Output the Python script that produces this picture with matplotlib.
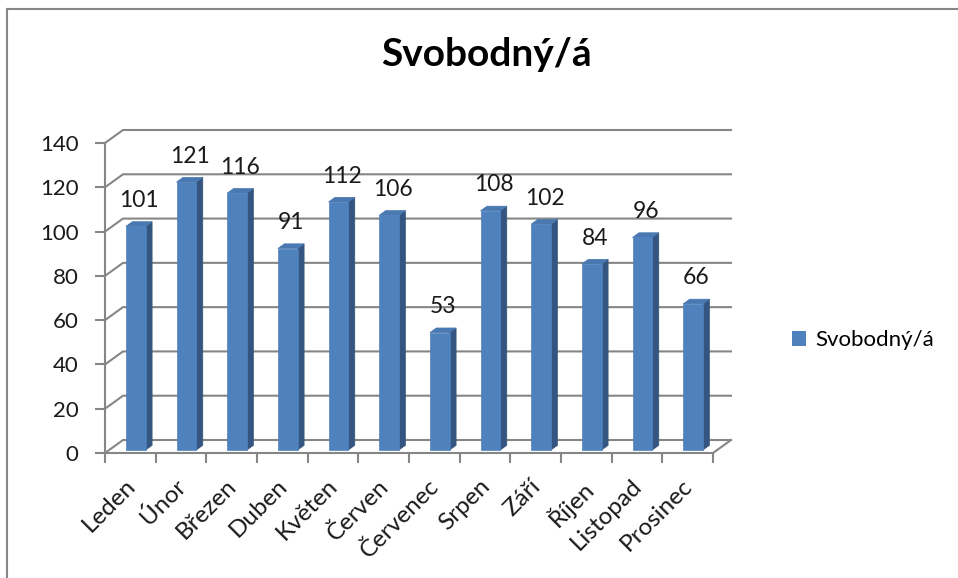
import numpy as np
import matplotlib.pyplot as plt
from matplotlib.patches import Polygon, Patch
from matplotlib.lines import Line2D
from matplotlib.transforms import Affine2D, IdentityTransform

months = ['Leden', 'Únor', 'Březen', 'Duben', 'Květen', 'Červen', 'Červenec',
          'Srpen', 'Září', 'Říjen', 'Listopad', 'Prosinec']
values = [101, 121, 116, 91, 112, 106, 53, 108, 102, 84, 96, 66]
series_name = 'Svobodný/á'
yticks = [0, 20, 40, 60, 80, 100, 120, 140]

plt.rcParams['font.family'] = ['Lato', 'DejaVu Sans']

W, H = 958, 578
fig = plt.figure(figsize=(W / 100, H / 100), dpi=100)
ax = fig.add_axes([105 / W, 1 - 453 / H, 608 / W, (453 - 143) / H])
ax.set_xlim(0, len(months))
ax.set_ylim(0, 140)
ax.patch.set_visible(False)

# depth of the fake 3d box, in pixels
DX, DY = 18, 13
grid_col = '#868686'
text_col = '#1a1a1a'

def proj(x, y, d):
    p = ax.transData.transform((x, y))
    return (p[0] + d * DX, p[1] + d * DY)

# back wall + left wall gridlines
for v in yticks:
    pts = [proj(0, v, 0), proj(0, v, 1), proj(len(months), v, 1)]
    ax.add_line(Line2D([p[0] for p in pts], [p[1] for p in pts], color=grid_col,
                       lw=1.5, transform=IdentityTransform(), clip_on=False, zorder=1))
# right edge of floor
pts = [proj(len(months), 0, 0), proj(len(months), 0, 1)]
ax.add_line(Line2D([p[0] for p in pts], [p[1] for p in pts], color=grid_col,
                   lw=1.5, transform=IdentityTransform(), clip_on=False, zorder=1))

# bars
front, back = 0.23, 0.59
for i, v in enumerate(values):
    x0, x1 = i + 0.33, i + 0.72
    faces = [
        ([proj(x1, 0, front), proj(x1, 0, back), proj(x1, v, back), proj(x1, v, front)], '#34557f'),
        ([proj(x0, v, front), proj(x1, v, front), proj(x1, v, back), proj(x0, v, back)], '#4a78b0'),
        ([proj(x0, 0, front), proj(x1, 0, front), proj(x1, v, front), proj(x0, v, front)], '#4f81bd'),
    ]
    for pts, c in faces:
        ax.add_patch(Polygon(pts, closed=True, facecolor=c, edgecolor=c, lw=0.5,
                             transform=IdentityTransform(), clip_on=False, zorder=3))
    lbl_tf = ax.transData + Affine2D().translate(0.42 * DX, 0.42 * DY + 13)
    ax.text(i + 0.525, v, str(v), transform=lbl_tf, ha='center', va='bottom',
            fontsize=16.5, color=text_col, zorder=4)

# axes styling
for s in ['top', 'right']:
    ax.spines[s].set_visible(False)
for s in ['left', 'bottom']:
    ax.spines[s].set_color(grid_col)
    ax.spines[s].set_linewidth(1.5)
ax.set_yticks(yticks)
ax.set_yticklabels([str(t) for t in yticks])
ax.tick_params(axis='y', length=7, width=1.5, color=grid_col, pad=12,
               labelsize=16, labelcolor=text_col)
ax.set_xticks(np.arange(len(months) + 1))
ax.set_xticklabels([])
ax.tick_params(axis='x', which='major', length=7, width=1.5, color=grid_col)
ax.set_xticks(np.arange(len(months)) + 0.5, minor=True)
ax.set_xticklabels(months, minor=True, rotation=45, ha='right',
                   rotation_mode='anchor', fontsize=17.5, color=text_col)
ax.tick_params(axis='x', which='minor', length=0, pad=16)
for lbl in ax.get_xticklabels(minor=True):
    lbl.set_transform(lbl.get_transform() + Affine2D().translate(-6, 0))

fig.text(0.508, 1 - 66 / H, 'Svobodný/á', ha='center', va='baseline',
         fontsize=28, fontweight='bold', color='black')

fig.legend(handles=[Patch(facecolor='#4f81bd', label=series_name)],
           loc='center left', bbox_to_anchor=(772 / W, 1 - 340 / H),
           frameon=False, fontsize=16, handlelength=0.65, handleheight=0.65,
           handletextpad=0.4)

# chart area border (left and top edges visible)
fig.add_artist(Line2D([7 / W, 7 / W], [0, 1 - 9 / H], transform=fig.transFigure,
                      color=grid_col, lw=1.5))
fig.add_artist(Line2D([7 / W, 1], [1 - 9 / H, 1 - 9 / H], transform=fig.transFigure,
                      color=grid_col, lw=1.5))

fig.savefig('out.png', dpi=100)
